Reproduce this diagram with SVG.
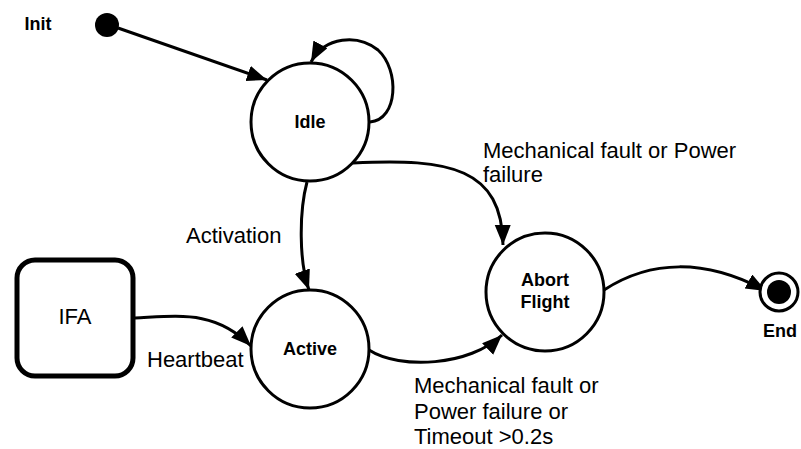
<svg xmlns="http://www.w3.org/2000/svg" width="801" height="449" viewBox="0 0 801 449">
<defs>
<marker id="arr" markerUnits="userSpaceOnUse" markerWidth="22" markerHeight="18" refX="20" refY="8" orient="auto">
<path d="M0,0 L20,8 L0,16 z" fill="#000"/>
</marker>
<style>
.st{fill:#fff;stroke:#000;stroke-width:3}
.lb{font-family:"Liberation Sans",Arial,sans-serif;font-size:18px;font-weight:bold;fill:#000;text-anchor:middle}
.tx{font-family:"Liberation Sans",Arial,sans-serif;font-size:22px;fill:#000}
.cn{fill:none;stroke:#000;stroke-width:3;marker-end:url(#arr)}
</style>
</defs>
<rect width="801" height="449" fill="#fff"/>
<g id="connectors">
<path class="cn" d="M118 28 L267 80"/>
<path class="cn" d="M370 122 C398 120 400 70 378 50 C358 34 325 36 311 62"/>
<path class="cn" d="M307 182 C299 212 299 262 309 290"/>
<path class="cn" d="M353 163 C450 158 502 168 503 245"/>
<path class="cn" d="M369 350 C400 370 470 366 502 335"/>
<path class="cn" d="M135 318 C180 316 215 310 251 346"/>
<path class="cn" d="M604 290 C650 260 705 258 766 291"/>
</g>
<g id="labels">
<text class="tx" x="483" y="158">Mechanical fault or Power</text>
<text class="tx" x="483" y="182">failure</text>
<text class="tx" x="414" y="393">Mechanical fault or</text>
<text class="tx" x="414" y="419">Power failure or</text>
<text class="tx" x="414" y="444">Timeout &gt;0.2s</text>
<text class="tx" x="186" y="243">Activation</text>
<text class="tx" x="147" y="367">Heartbeat</text>
</g>
<g id="init">
<circle cx="107" cy="25" r="12" fill="#000"/>
<text class="lb" x="38" y="30">Init</text>
</g>
<g id="idle">
<circle class="st" cx="310" cy="122" r="59"/>
<text class="lb" x="310" y="128">Idle</text>
</g>
<g id="active">
<circle class="st" cx="310" cy="349" r="59"/>
<text class="lb" x="310" y="355">Active</text>
</g>
<g id="ifa">
<rect x="17" y="260" width="116" height="116" rx="18" fill="#fff" stroke="#000" stroke-width="5"/>
<text class="tx" x="75" y="324" text-anchor="middle">IFA</text>
</g>
<g id="abort">
<circle class="st" cx="545" cy="292" r="59"/>
<text class="lb" x="545" y="286">Abort</text>
<text class="lb" x="545" y="308">Flight</text>
</g>
<g id="end">
<circle cx="779" cy="292" r="19" fill="#fff" stroke="#000" stroke-width="3"/>
<circle cx="779" cy="292" r="12" fill="#000"/>
<text class="lb" x="780" y="337">End</text>
</g>
</svg>
